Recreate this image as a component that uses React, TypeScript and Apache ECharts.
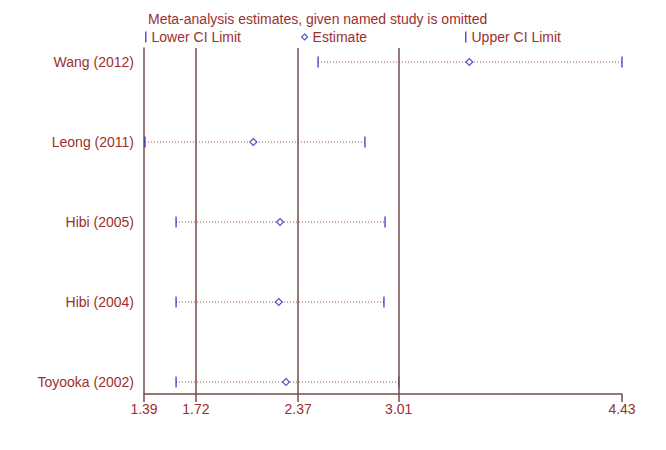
import React, { useEffect, useRef } from "react";
import * as echarts from "echarts";

const studies = ["Toyooka (2002)", "Hibi (2004)", "Hibi (2005)", "Leong (2011)", "Wang (2012)"];
const rowPos = [1, 2, 3, 4, 5];
const lowerCI = [1.594, 1.594, 1.594, 1.396, 2.497];
const estimates = [2.293, 2.247, 2.255, 2.085, 3.459];
const upperCI = [3.01, 2.916, 2.923, 2.795, 4.43];
const refLines = [1.72, 2.37, 3.01];
const xTicks = [1.39, 1.72, 2.37, 3.01, 4.43];
const titleText = "Meta-analysis estimates, given named study is omitted";

const TEXT = "#9c2f2f";
const AXIS = "#7a4b4b";
const BLUE = "#2b2bc0";
const FONT = "Liberation Sans, Arial, sans-serif";

export default function App() {
  const ref = useRef<HTMLDivElement>(null);
  useEffect(() => {
    const chart = echarts.init(ref.current!, null, { renderer: "svg" });
    const ciData = studies.map((_, i) => [lowerCI[i], estimates[i], upperCI[i], rowPos[i]]);
    const legendBase = {
      top: 17,
      itemWidth: 1.5,
      itemHeight: 11,
      itemGap: 4,
      textStyle: { color: TEXT, fontSize: 14, fontFamily: FONT },
      selectedMode: false,
    };
    chart.setOption({
      animation: false,
      backgroundColor: "#ffffff",
      title: {
        text: titleText,
        left: 135,
        top: -1,
        textStyle: { color: TEXT, fontSize: 14, fontWeight: "normal", fontFamily: FONT },
      },
      legend: [
        { ...legendBase, left: 132, data: [{ name: "Lower CI Limit", icon: "rect" }] },
        {
          ...legendBase,
          left: 288,
          itemWidth: 6,
          itemHeight: 6,
          data: [
            {
              name: "Estimate",
              icon: "diamond",
              itemStyle: { color: "#ffffff", borderColor: BLUE, borderWidth: 1.2 },
            },
          ],
        },
        { ...legendBase, left: 452, data: [{ name: "Upper CI Limit", icon: "rect" }] },
      ],
      grid: { left: 136, right: 52, top: 40, bottom: 64 },
      xAxis: {
        type: "value",
        min: 1.39,
        max: 4.43,
        axisLine: { show: true, lineStyle: { color: AXIS, width: 1.5 } },
        axisTick: { show: true, customValues: xTicks, length: 8, lineStyle: { color: AXIS, width: 1.5 } },
        axisLabel: {
          customValues: xTicks,
          formatter: (v: number) => v.toFixed(2),
          color: TEXT,
          fontSize: 14,
          fontFamily: FONT,
          margin: 8,
        },
        splitLine: { show: false },
      },
      yAxis: {
        type: "value",
        min: 0.85,
        max: 5.175,
        axisLine: { show: true, lineStyle: { color: AXIS, width: 1.5 } },
        axisTick: { show: false },
        axisLabel: {
          customValues: rowPos,
          formatter: (v: number) => studies[rowPos.indexOf(Math.round(v))] ?? "",
          color: TEXT,
          fontSize: 14,
          fontFamily: FONT,
          margin: 10,
        },
        splitLine: { show: false },
      },
      series: [
        {
          type: "custom",
          name: "CI",
          data: ciData,
          encode: { x: [0, 2], y: 3 },
          renderItem: (params: any, api: any) => {
            const a = api.coord([api.value(0), api.value(3)]);
            const b = api.coord([api.value(2), api.value(3)]);
            return {
              type: "line",
              shape: { x1: a[0], y1: a[1], x2: b[0], y2: b[1] },
              style: { stroke: "#9a4a4a", lineWidth: 1, lineDash: [1, 2] },
            };
          },
          markLine: {
            silent: true,
            symbol: "none",
            label: { show: false },
            lineStyle: { color: AXIS, width: 1.5, type: "solid" },
            data: refLines.map((v) => ({ xAxis: v })),
          },
          z: 2,
        },
        {
          type: "scatter",
          name: "Lower CI Limit",
          data: studies.map((_, i) => [lowerCI[i], rowPos[i]]),
          symbol: "rect",
          symbolSize: [1.5, 11],
          itemStyle: { color: BLUE },
          z: 3,
        },
        {
          type: "scatter",
          name: "Upper CI Limit",
          data: studies.map((_, i) => [upperCI[i], rowPos[i]]),
          symbol: "rect",
          symbolSize: [1.5, 11],
          itemStyle: { color: BLUE },
          z: 3,
        },
        {
          type: "scatter",
          name: "Estimate",
          data: studies.map((_, i) => [estimates[i], rowPos[i]]),
          symbol: "diamond",
          symbolSize: [7, 7],
          itemStyle: { color: "#ffffff", borderColor: BLUE, borderWidth: 1.2 },
          z: 4,
        },
      ],
    });
    return () => chart.dispose();
  }, []);
  return <div ref={ref} style={{ width: 666, height: 450 }} />;
}
